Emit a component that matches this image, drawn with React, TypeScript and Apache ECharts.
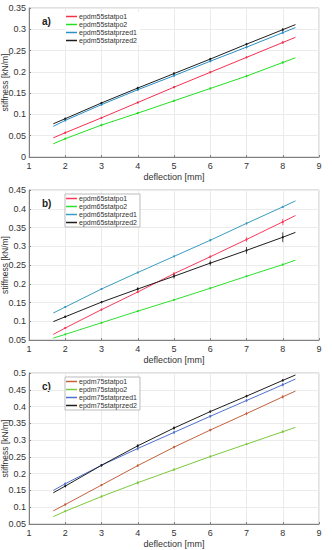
import React, { useEffect, useRef } from "react";
import * as echarts from "echarts";

const xs = [1.67, 2, 3, 4, 5, 6, 7, 8, 8.35];
const xTicks = [1, 2, 3, 4, 5, 6, 7, 8, 9];

// panel a
const aNames = ["epdm55statpo1", "epdm55statpo2", "epdm55statprzed1", "epdm55statprzed2"];
const aPo1 = [0.045, 0.057, 0.092, 0.128, 0.164, 0.199, 0.234, 0.269, 0.281];
const aPo2 = [0.031, 0.043, 0.075, 0.103, 0.132, 0.161, 0.19, 0.222, 0.233];
const aPrzed1 = [0.072, 0.086, 0.123, 0.158, 0.191, 0.225, 0.258, 0.292, 0.304];
const aPrzed2 = [0.078, 0.09, 0.127, 0.162, 0.196, 0.23, 0.265, 0.299, 0.311];
const aErr1 = [0, 0.002, 0.002, 0.002, 0.002, 0.002, 0.002, 0.003, 0];
const aErr2 = [0, 0.002, 0.003, 0.002, 0.002, 0.002, 0.003, 0.003, 0];
const aErr3 = [0, 0.002, 0.002, 0.003, 0.002, 0.002, 0.003, 0.003, 0];
const aErr4 = [0, 0.002, 0.002, 0.003, 0.003, 0.003, 0.003, 0.004, 0];

// panel b
const bNames = ["epdm65statpo1", "epdm65statpo2", "epdm65statprzed1", "epdm65statprzed2"];
const bPo1 = [0.065, 0.082, 0.131, 0.178, 0.227, 0.272, 0.318, 0.365, 0.382];
const bPo2 = [0.055, 0.065, 0.096, 0.127, 0.157, 0.188, 0.22, 0.251, 0.263];
const bPrzed1 = [0.122, 0.138, 0.186, 0.23, 0.273, 0.316, 0.361, 0.405, 0.421];
const bPrzed2 = [0.099, 0.112, 0.151, 0.186, 0.22, 0.255, 0.289, 0.324, 0.337];
const bErr1 = [0, 0.002, 0.003, 0.003, 0.004, 0.004, 0.006, 0.008, 0];
const bErr2 = [0, 0.002, 0.002, 0.002, 0.002, 0.002, 0.002, 0.003, 0];
const bErr3 = [0, 0.002, 0.002, 0.002, 0.002, 0.003, 0.003, 0.003, 0];
const bErr4 = [0, 0.003, 0.003, 0.005, 0.006, 0.007, 0.009, 0.013, 0];

// panel c
const cNames = ["epdm75statpo1", "epdm75statpo2", "epdm75statprzed1", "epdm75statprzed2"];
const cPo1 = [0.089, 0.108, 0.166, 0.224, 0.279, 0.33, 0.379, 0.429, 0.446];
const cPo2 = [0.072, 0.088, 0.132, 0.173, 0.212, 0.251, 0.288, 0.325, 0.338];
const cPrzed1 = [0.15, 0.17, 0.225, 0.275, 0.323, 0.371, 0.418, 0.465, 0.482];
const cPrzed2 = [0.143, 0.163, 0.225, 0.283, 0.336, 0.385, 0.431, 0.478, 0.494];
const cErr1 = [0, 0.003, 0.003, 0.004, 0.004, 0.004, 0.005, 0.005, 0];
const cErr2 = [0, 0.002, 0.003, 0.005, 0.004, 0.003, 0.003, 0.004, 0];
const cErr3 = [0, 0.003, 0.003, 0.006, 0.005, 0.004, 0.004, 0.005, 0];
const cErr4 = [0, 0.004, 0.003, 0.005, 0.005, 0.004, 0.004, 0.004, 0];

const colorsA = ["#f5304f", "#22e022", "#2a90c8", "#1e1e1e"];
const colorsB = ["#f83a5a", "#2ee02e", "#3a9cc0", "#1e1e1e"];
const colorsC = ["#c4603e", "#7cc83c", "#5070d0", "#1e1e1e"];

const panels = [
  { label: "a)", names: aNames, ys: [aPo1, aPo2, aPrzed1, aPrzed2], errs: [aErr1, aErr2, aErr3, aErr4], colors: colorsA, min: 0, max: 0.35, top: 8, height: 149, legendBorder: false },
  { label: "b)", names: bNames, ys: [bPo1, bPo2, bPrzed1, bPrzed2], errs: [bErr1, bErr2, bErr3, bErr4], colors: colorsB, min: 0.05, max: 0.45, top: 190, height: 150, legendBorder: true },
  { label: "c)", names: cNames, ys: [cPo1, cPo2, cPrzed1, cPrzed2], errs: [cErr1, cErr2, cErr3, cErr4], colors: colorsC, min: 0.05, max: 0.5, top: 373, height: 151, legendBorder: true },
];

const FONT = "Liberation Sans";

function fmt(v: number) {
  return String(Math.round(v * 1000) / 1000);
}

export default function App() {
  const ref = useRef<HTMLDivElement>(null);
  useEffect(() => {
    if (!ref.current) return;
    const chart = echarts.init(ref.current, undefined, { renderer: "svg" });
    const grid: any[] = [];
    const xAxis: any[] = [];
    const yAxis: any[] = [];
    const series: any[] = [];
    const legend: any[] = [];
    const graphic: any[] = [];
    panels.forEach((p, i) => {
      grid.push({ left: 29, right: 13, top: p.top, height: p.height, containLabel: false, outerBoundsMode: "none", show: true, borderColor: "#c4c4c4", borderWidth: 1, backgroundColor: "#fff" });
      xAxis.push({
        type: "value", gridIndex: i, min: xTicks[0], max: xTicks[xTicks.length - 1], interval: 1,
        name: "deflection [mm]", nameLocation: "middle", nameGap: 15, nameMoveOverlap: false,
        nameTextStyle: { fontFamily: FONT, fontSize: 9, color: "#333" },
        axisLine: { lineStyle: { color: "#808080" } },
        axisTick: { inside: true, length: 2, lineStyle: { color: "#808080" } },
        axisLabel: { fontFamily: FONT, fontSize: 9, color: "#333", margin: 4 },
        splitLine: { show: true, lineStyle: { color: "#ebebeb", width: 1 } },
      });
      yAxis.push({
        type: "value", gridIndex: i, min: p.min, max: p.max, interval: 0.05,
        name: "stiffness [kN/m]", nameLocation: "middle", nameGap: 20, nameMoveOverlap: false,
        nameTextStyle: { fontFamily: FONT, fontSize: 8.5, color: "#333" },
        axisLine: { show: true, lineStyle: { color: "#808080" } },
        axisTick: { show: true, inside: true, length: 2, lineStyle: { color: "#808080" } },
        axisLabel: { fontFamily: FONT, fontSize: 9, color: "#333", margin: 3, formatter: fmt },
        splitLine: { show: true, lineStyle: { color: "#ebebeb", width: 1 } },
      });
      p.names.forEach((n, k) => {
        series.push({
          type: "line", name: n, xAxisIndex: i, yAxisIndex: i, symbol: "none",
          lineStyle: { color: p.colors[k], width: 1 }, itemStyle: { color: p.colors[k] },
          data: xs.map((x, j) => [x, p.ys[k][j]]), z: 3,
        });
        const errData = xs.map((x, j) => [x, p.ys[k][j], p.errs[k][j]]).filter((d, j) => j > 0 && j < xs.length - 1);
        series.push({
          type: "custom", xAxisIndex: i, yAxisIndex: i, z: 4,
          data: errData,
          renderItem: (params: any, api: any) => {
            const x = api.value(0), y = api.value(1), e = api.value(2);
            const pLo = api.coord([x, y - e]);
            const pHi = api.coord([x, y + e]);
            const pc = api.coord([x, y]);
            const c = p.colors[k];
            return {
              type: "group",
              children: [
                { type: "line", shape: { x1: pc[0], y1: pLo[1], x2: pc[0], y2: pHi[1] }, style: { stroke: c, lineWidth: 0.8 } },
                { type: "circle", shape: { cx: pc[0], cy: pc[1], r: 1.1 }, style: { fill: c } },
              ],
            };
          },
        });
      });
      legend.push({
        data: p.names, orient: "vertical", left: 65, top: p.top + 4,
        itemWidth: 11, itemHeight: 1.5, itemGap: 1, icon: "rect",
        padding: [1, 3, 1, 1],
        borderColor: p.legendBorder ? "#bbb" : "transparent", borderWidth: 1,
        backgroundColor: "#fff",
        textStyle: { fontFamily: FONT, fontSize: 7, color: "#333", padding: [0, 0, 0, -3] },
      });
      graphic.push({
        type: "text", left: 42, top: p.top + 8,
        style: { text: p.label, font: `bold 10px ${FONT}`, fill: "#222" },
      });
    });
    chart.setOption({
      animation: false,
      backgroundColor: "#fff",
      grid, xAxis, yAxis, series, legend, graphic,
    });
    return () => chart.dispose();
  }, []);
  return <div ref={ref} style={{ position: "fixed", left: 0, top: 0, width: 332, height: 550 }} />;
}
